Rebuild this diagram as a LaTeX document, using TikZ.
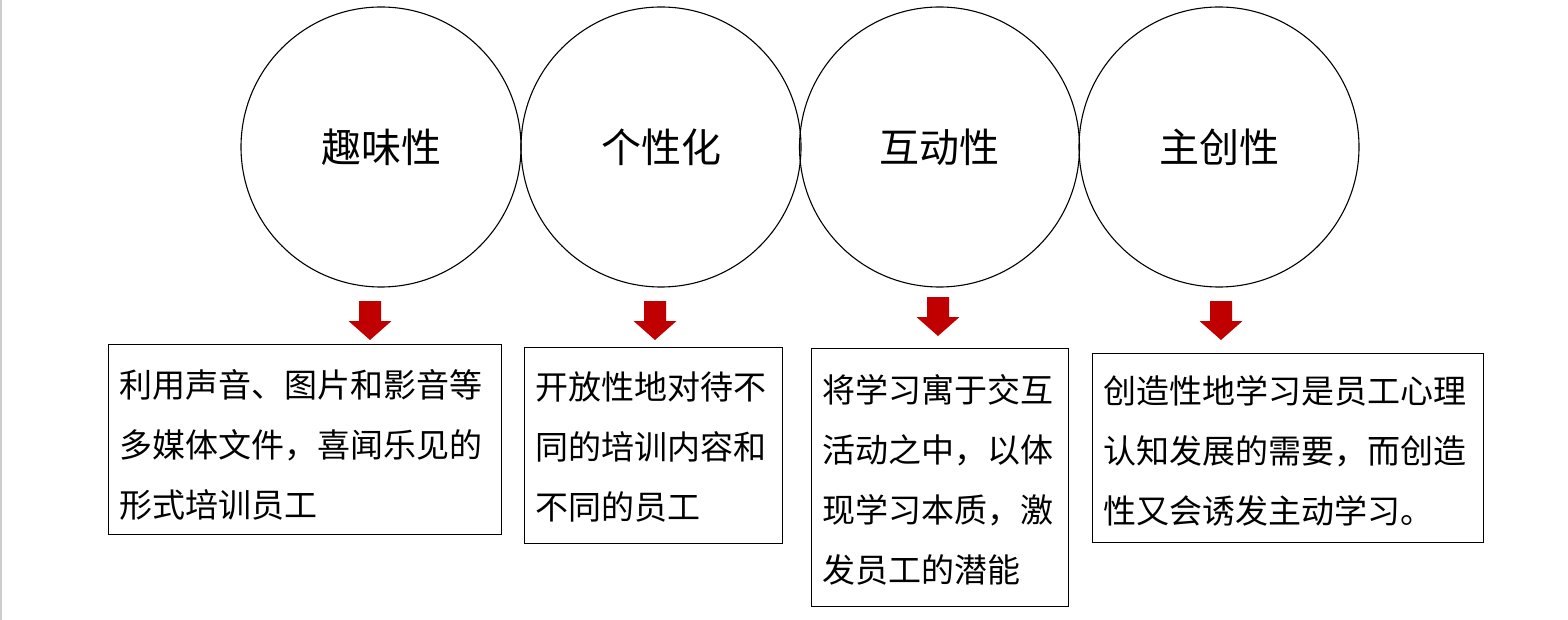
\documentclass[tikz,border=0pt]{standalone}
\usepackage{fontspec}
\newfontfamily\cjk{Noto Sans CJK SC}
\definecolor{arrowred}{HTML}{C00000}
\definecolor{edgegray}{HTML}{CCCCCC}
\begin{document}
\begin{tikzpicture}[x=1pt,y=-1pt,
  circ/.style={circle,draw=black,line width=1.1pt,minimum size=280pt,inner sep=0pt,font=\cjk\fontsize{40}{48}\selectfont},
  txtbox/.style={rectangle,draw=black,line width=1pt,inner sep=0pt,anchor=north west},
  boxtext/.style={anchor=base west,inner sep=0pt,font=\cjk\fontsize{33}{60}\selectfont},
  blockarrow/.style={fill=arrowred}]
\useasboundingbox (0,0) rectangle (1568,620);
\draw[edgegray,line width=1.5pt] (0.75,0) -- (0.75,620);
% circles
\node[circ] (c1) at (381,147) {趣味性};
\node[circ] (c2) at (661,147) {个性化};
\node[circ] (c3) at (939.5,147) {互动性};
\node[circ] (c4) at (1219,147) {主创性};
% arrows
\foreach \x/\t in {370/301, 655/301, 938/297, 1221/301}{
  \fill[blockarrow] ({\x-11},\t) -- ({\x+11},\t) -- ({\x+11},{\t+20}) -- ({\x+21.5},{\t+20})
    -- (\x,{\t+39}) -- ({\x-21.5},{\t+20}) -- ({\x-11},{\t+20}) -- cycle;
}
% boxes
\node[txtbox,minimum width=393pt,minimum height=190pt] (b1) at (108,344) {};
\node[txtbox,minimum width=258pt,minimum height=196pt] (b2) at (524,347) {};
\node[txtbox,minimum width=257pt,minimum height=258pt] (b3) at (811,348) {};
\node[txtbox,minimum width=391pt,minimum height=189pt] (b4) at (1092,353) {};
% texts
\node[boxtext] (t1) at (119,397) {\parbox[t]{380pt}{\baselineskip=60pt 利用声音、图片和影音等\\多媒体文件，喜闻乐见的\\形式培训员工}};
\node[boxtext] (t2) at (535,399) {\parbox[t]{250pt}{\baselineskip=60pt 开放性地对待不\\同的培训内容和\\不同的员工}};
\node[boxtext] (t3) at (822,402) {\parbox[t]{250pt}{\baselineskip=60pt 将学习寓于交互\\活动之中，以体\\现学习本质，激\\发员工的潜能}};
\node[boxtext] (t4) at (1103,403) {\parbox[t]{380pt}{\baselineskip=60pt 创造性地学习是员工心理\\认知发展的需要，而创造\\性又会诱发主动学习。}};
\end{tikzpicture}
\end{document}
